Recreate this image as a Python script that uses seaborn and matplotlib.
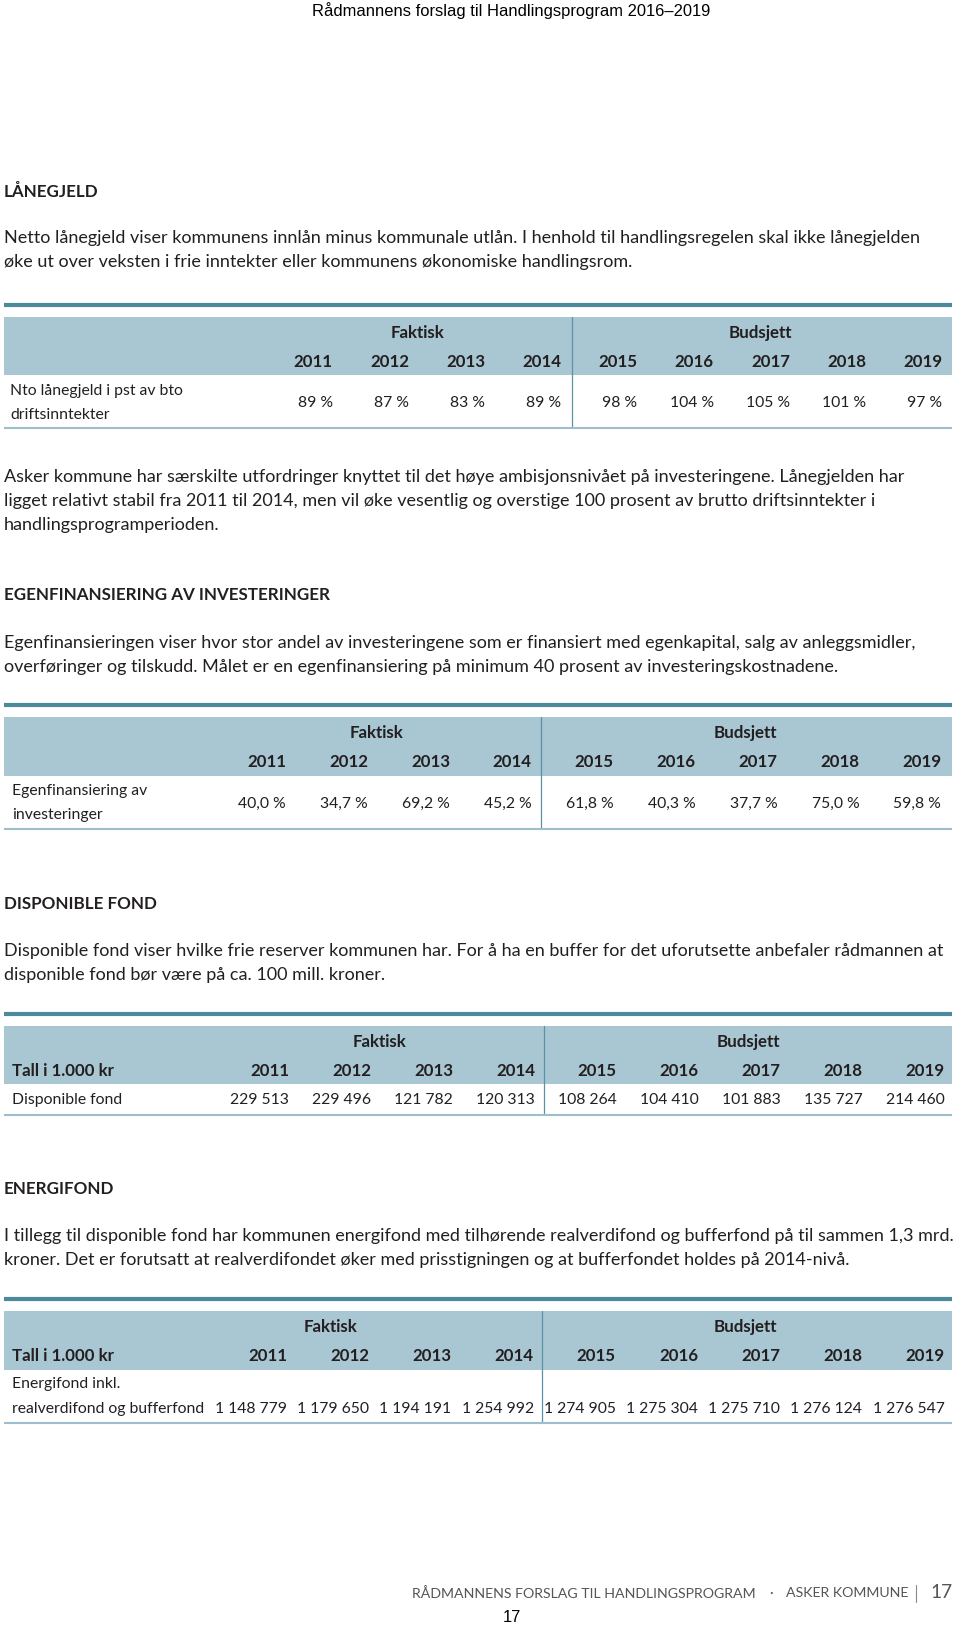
import matplotlib
matplotlib.use("Agg")
import matplotlib.pyplot as plt
from matplotlib.patches import Rectangle
import seaborn as sns

# ---------------- data ----------------
years = [2011, 2012, 2013, 2014, 2015, 2016, 2017, 2018, 2019]
lanegjeld_pct = [89, 87, 83, 89, 98, 104, 105, 101, 97]
egenfin_pct = [40.0, 34.7, 69.2, 45.2, 61.8, 40.3, 37.7, 75.0, 59.8]
disponible_fond = [229513, 229496, 121782, 120313, 108264, 104410, 101883, 135727, 214460]
energifond = [1148779, 1179650, 1194191, 1254992, 1274905, 1275304, 1275710, 1276124, 1276547]
group_labels = ["Faktisk", "Budsjett"]

page_title = "Rådmannens forslag til Handlingsprogram 2016–2019"
headings = ["LÅNEGJELD", "EGENFINANSIERING AV INVESTERINGER", "DISPONIBLE FOND", "ENERGIFOND"]
para1 = ["Netto lånegjeld viser kommunens innlån minus kommunale utlån. I henhold til handlingsregelen skal ikke lånegjelden",
         "øke ut over veksten i frie inntekter eller kommunens økonomiske handlingsrom."]
para2 = ["Asker kommune har særskilte utfordringer knyttet til det høye ambisjonsnivået på investeringene. Lånegjelden har",
         "ligget relativt stabil fra 2011 til 2014, men vil øke vesentlig og overstige 100 prosent av brutto driftsinntekter i",
         "handlingsprogramperioden."]
para3 = ["Egenfinansieringen viser hvor stor andel av investeringene som er finansiert med egenkapital, salg av anleggsmidler,",
         "overføringer og tilskudd. Målet er en egenfinansiering på minimum 40 prosent av investeringskostnadene."]
para4 = ["Disponible fond viser hvilke frie reserver kommunen har. For å ha en buffer for det uforutsette anbefaler rådmannen at",
         "disponible fond bør være på ca. 100 mill. kroner."]
para5 = ["I tillegg til disponible fond har kommunen energifond med tilhørende realverdifond og bufferfond på til sammen 1,3 mrd.",
         "kroner. Det er forutsatt at realverdifondet øker med prisstigningen og at bufferfondet holdes på 2014-nivå."]
row_labels = [["Nto lånegjeld i pst av bto", "driftsinntekter"],
              ["Egenfinansiering av", "investeringer"],
              ["Disponible fond"],
              ["Energifond inkl.", "realverdifond og bufferfond"]]
unit_label = "Tall i 1.000 kr"
footer_left = "RÅDMANNENS FORSLAG TIL HANDLINGSPROGRAM"
footer_right = "ASKER KOMMUNE"
page_no = "17"


def fmt_int(v):
    return f"{v:,}".replace(",", " ")


def fmt_pct0(v):
    return f"{v} %"


def fmt_pct1(v):
    return f"{v:.1f} %".replace(".", ",")


# ---------------- style ----------------
sns.set_theme(style="white")
plt.rcParams['font.family'] = ['Lato', 'DejaVu Sans']

RULE = "#4b8a9d"
BAND = "#a9c6d3"
BOTTOM = "#9dbecc"
DIV = "#5a93a6"
TXT = "#231f20"

W, H = 960, 1625
fig = plt.figure(figsize=(9.6, 16.25), dpi=100)
ax = fig.add_axes([0, 0, 1, 1])
ax.set_xlim(0, W)
ax.set_ylim(H, 0)
ax.axis('off')
renderer = fig.canvas.get_renderer()


def measure(text, size, weight='normal', family=None):
    kw = {}
    if family is not None:
        kw['family'] = family
    t = ax.text(0, 0, text, fontsize=size, fontweight=weight, **kw)
    w = t.get_window_extent(renderer).width
    t.remove()
    return w


def fit(texts, targets, weight='normal', family=None, base=12.0):
    if isinstance(texts, str):
        texts, targets = [texts], [targets]
    ws = sum(measure(s, base, weight, family) for s in texts)
    return base * sum(targets) / ws


# fit body size on several full-width lines (widths)
BODY = fit([para1[0], para2[0], para3[0], para4[0], para5[0]],
           [927, 895, 910, 922, 947])
# make sure the widest line stays inside the page
widest = max(measure(s, BODY) for s in para1 + para2 + para3 + para4 + para5)
if widest > 950:
    BODY *= 950 / widest
HEAD = fit(headings[1], 326, 'bold')
TAB = fit(row_labels[3][1], 193)
TABB = fit(unit_label, 102, 'bold')
TOP = fit(page_title, 396, family='Liberation Sans')
FOOT = fit(footer_left, 344)


def txt(x, y, s, size, weight='normal', ha='left', color=TXT, **kw):
    ax.text(x, y, s, fontsize=size, fontweight=weight, ha=ha, va='center', color=color, **kw)


# header
txt(511, 10.5, page_title, TOP, ha='center', color='black', family='Liberation Sans')


def paragraph(lines, y0, step=23.9):
    for i, s in enumerate(lines):
        txt(4, y0 + i * step, s, BODY)


LEFT, RIGHT = 4, 951.7


def table(top, right, colw, div_x, fak_x, bud_x, label_x, labels, label_ys,
          values, fmt, value_y, bottom, unit=False):
    ax.plot([LEFT, RIGHT], [top, top], color=RULE, lw=3.0, solid_capstyle='butt')
    b0, b1 = top + 12.4, top + 70.5
    ax.add_patch(Rectangle((LEFT, b0), RIGHT - LEFT, b1 - b0, color=BAND, lw=0))
    ax.plot([div_x, div_x], [b0, bottom], color=DIV, lw=0.9)
    ax.plot([LEFT, RIGHT], [bottom, bottom], color=BOTTOM, lw=1.5, solid_capstyle='butt')
    txt(fak_x, top + 28, group_labels[0], TABB, 'bold', ha='center')
    txt(bud_x, top + 28, group_labels[1], TABB, 'bold', ha='center')
    if unit:
        txt(label_x, top + 57, unit_label, TABB, 'bold')
    for i, yr in enumerate(years):
        xr = right - (len(years) - 1 - i) * colw
        txt(xr, top + 57, str(yr), TABB, 'bold', ha='right')
        txt(xr, value_y, fmt(values[i]), TAB, ha='right')
    for s, yy in zip(labels, label_ys):
        txt(label_x, yy, s, TAB)


# Section 1
txt(4, 191.8, headings[0], HEAD, 'bold')
paragraph(para1, 238.4)
t1 = 304.8
table(t1, 942.4, 76.2, 572.3, 417.8, 759.9, 10.4, row_labels[0],
      [t1 + 86, t1 + 110], lanegjeld_pct, fmt_pct0, t1 + 98.5, 428.2)
paragraph(para2, 476.9)

# Section 2
txt(4, 595.1, headings[1], HEAD, 'bold')
paragraph(para3, 642.8)
t2 = 705.0
table(t2, 941.3, 81.9, 541.2, 376.3, 745.4, 12.4, row_labels[1],
      [t2 + 86, t2 + 110], egenfin_pct, fmt_pct1, t2 + 98.5, 829.4)

# Section 3
txt(4, 904.0, headings[2], HEAD, 'bold')
paragraph(para4, 950.7)
t3 = 1013.9
table(t3, 944.4, 81.9, 544.3, 379.4, 748.5, 12.4, row_labels[2],
      [t3 + 86], disponible_fond, fmt_int, t3 + 86, 1114.5, unit=True)

# Section 4
txt(4, 1189.1, headings[3], HEAD, 'bold')
paragraph(para5, 1235.7)
t4 = 1299.0
table(t4, 944.4, 82.15, 542.2, 330.7, 745.4, 12.4, row_labels[3],
      [t4 + 85, t4 + 110], energifond, fmt_int, t4 + 110, 1423.4, unit=True)

# footer
FG = "#555555"
txt(411.6, 1593.4, footer_left, FOOT, color=FG)
txt(771.3, 1593.4, "·", FOOT, ha='center', color=FG)
txt(785.8, 1593.4, footer_right, FOOT, color=FG)
ax.plot([916.4, 916.4], [1585, 1602], color="#888888", lw=0.8)
txt(930, 1592.5, page_no, FOOT * 1.35, color=FG)
txt(512, 1617.3, page_no, TOP, ha='center', color='black', family='Liberation Sans')

fig.savefig("out.png", dpi=100)
